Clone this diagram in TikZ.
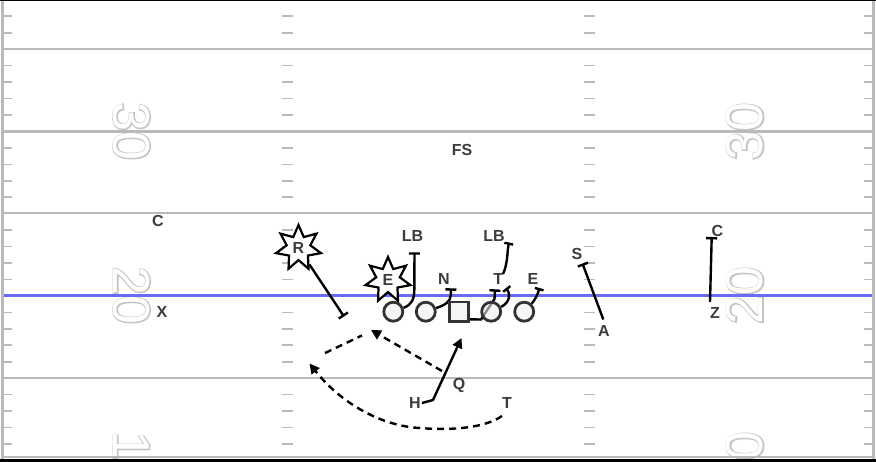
\documentclass[tikz,border=0pt]{standalone}
\usepackage{fontspec}
\setmainfont{Liberation Sans}
\newfontfamily\numfont{Liberation Sans}
\newfontfamily\numfontfat[FakeBold=4]{Liberation Sans}
\usetikzlibrary{arrows.meta,shapes.geometric}
\pgfdeclarelayer{field}
\pgfdeclarelayer{routes}
\pgfsetlayers{field,routes,main}
\definecolor{yardgray}{HTML}{BABABA}
\definecolor{tickgray}{HTML}{BBBBBB}
\definecolor{numgray}{HTML}{C4C4C4}
\definecolor{losblue}{HTML}{6B6BF2}
\definecolor{lbl}{HTML}{3C3C3C}
\definecolor{playerline}{HTML}{333333}
\definecolor{playerfill}{HTML}{EFEFEF}
\tikzset{
  yardline/.style={draw=yardgray, line width=2.6pt},
  tickline/.style={draw=tickgray, line width=1.6pt},
  numfat/.style={text=numgray, font=\numfontfat\fontsize{52}{52}\selectfont, inner sep=0pt},
  numthin/.style={text=white, font=\numfont\fontsize{52}{52}\selectfont, inner sep=0pt},
  lab/.style={text=lbl, font=\bfseries\fontsize{16}{16}\selectfont, inner sep=1pt},
  player/.style={circle, draw=playerline, line width=2.8pt, fill=playerfill, fill opacity=0.6, text opacity=1, minimum size=19pt, inner sep=0pt},
  centerbox/.style={rectangle, draw=playerline, line width=2.8pt, fill=playerfill, fill opacity=0.6, minimum size=19.5pt, inner sep=0pt},
  blitz/.style={star, star points=7, star point ratio=1.9, draw=black, line width=2.2pt, fill=white, minimum size=46pt, inner sep=0pt, text=lbl, font=\bfseries\fontsize{16}{16}\selectfont},
  route/.style={draw=black, line width=2.4pt},
  blockend/.style={-{Bar[width=11pt]}},
  blocksmall/.style={-{Bar[width=9pt]}},
  passarrow/.style={-{Triangle[length=10pt,width=10pt]}},
  dashroute/.style={route, dash pattern=on 7pt off 5pt},
}
\begin{document}
\begin{tikzpicture}[x=1pt,y=-1pt]
\useasboundingbox (0,0) rectangle (876,462);
\begin{pgfonlayer}{field}
  \fill[white] (0,0) rectangle (876,462);
  \begin{scope}
    \clip (0,0) rectangle (876,459);
    \node (n30lf) [numfat, rotate=-90] at (131.5,131.5) {30};
    \node (n30lt) [numthin, rotate=-90] at (131.5,131.5) {30};
    \node (n20lf) [numfat, rotate=-90] at (131.5,295.5) {20};
    \node (n20lt) [numthin, rotate=-90] at (131.5,295.5) {20};
    \node (n10lf) [numfat, rotate=-90] at (131.5,460.5) {10};
    \node (n10lt) [numthin, rotate=-90] at (131.5,460.5) {10};
    \node (n30rf) [numfat, rotate=90] at (745,131.5) {30};
    \node (n30rt) [numthin, rotate=90] at (745,131.5) {30};
    \node (n20rf) [numfat, rotate=90] at (745,295.5) {20};
    \node (n20rt) [numthin, rotate=90] at (745,295.5) {20};
    \node (n10rf) [numfat, rotate=90] at (745,460.5) {10};
    \node (n10rt) [numthin, rotate=90] at (745,460.5) {10};
  \end{scope}
  % yard lines
  \foreach \yy in {49.2,131.5,213,378.2,457}
    \draw[yardline] (3,\yy) -- (873,\yy);
  % hash ticks
  \foreach \n in {-2,-1,1,2,3,4,6,7,8,9,11,12,13,14,16,17,18,19,21,22,23,24}{
    \pgfmathsetmacro\yy{49.2+16.45*\n}
    \draw[tickline] (3,\yy) -- (12,\yy);
    \draw[tickline] (282,\yy) -- (292.5,\yy);
    \draw[tickline] (584,\yy) -- (595,\yy);
    \draw[tickline] (864,\yy) -- (873,\yy);
  }
  % line of scrimmage
  \draw[draw=losblue, line width=2.5pt] (3,295.5) -- (873,295.5);
  % sidelines and frame
  \draw[draw=yardgray, line width=2.5pt] (2.5,0) -- (2.5,462);
  \draw[draw=yardgray, line width=2.5pt] (873.5,0) -- (873.5,462);
  \draw[black, line width=1.2pt] (0,0.6) -- (876,0.6);
  \draw[black, line width=3pt] (0,460.5) -- (876,460.5);
\end{pgfonlayer}

% offensive players
\node (c1) [player] at (393.3,311.7) {};
\node (c2) [player] at (425.8,311.7) {};
\node (sq) [centerbox] at (459,311.7) {};
\node (c4) [player] at (491.2,311.7) {};
\node (c5) [player] at (524.2,311.7) {};

% blitzers
\node (R) [blitz] at (298.5,248) {R};
\node (E1) [blitz] at (388,280) {E};

% labels
\node (Cl) [lab] at (158,221) {C};
\node (X) [lab] at (162,312) {X};
\node (FS) [lab] at (462,150) {FS};
\node (LB1) [lab] at (412.5,236) {LB};
\node (LB2) [lab] at (494,236) {LB};
\node (N) [lab] at (444,279) {N};
\node (Td) [lab] at (498.3,278.5) {T};
\node (E2) [lab] at (533,279) {E};
\node (S) [lab] at (577,254) {S};
\node (Cr) [lab] at (717.5,231) {C};
\node (Z) [lab] at (715,313) {Z};
\node (A) [lab] at (604,331) {A};
\node (Q) [lab] at (459,385) {Q};
\node (H) [lab] at (415,403) {H};
\node (To) [lab] at (507,403) {T};

% route end points
\coordinate (rEnd) at (344,316.5);
\coordinate (lb1Bar) at (414.5,252.3);
\coordinate (nBar) at (451,288.3);
\coordinate (tBar) at (495,289.3);
\coordinate (hookEnd) at (506,288);
\coordinate (e2End) at (539.5,288);
\coordinate (lb2End) at (509,242.5);
\coordinate (lb2Start) at (503,274);
\coordinate (aStart) at (603.3,319.5);
\coordinate (sBar) at (582.5,263.5);
\coordinate (zStart) at (710,302);
\coordinate (cBar) at (711.7,237);
\coordinate (hEnd) at (461.5,338);
\coordinate (qStart) at (442,371);
\coordinate (qEnd) at (371,330);
\coordinate (tStart) at (502,416);
\coordinate (tEnd) at (309.5,363.5);
\coordinate (mStart) at (325,353);
\coordinate (mEnd) at (362,335.5);

\begin{pgfonlayer}{routes}
  \draw[route, blockend] (R) -- (rEnd);
  \draw[route, blockend] (c1) .. controls (411,305) and (414.3,300) .. (414.3,290) -- (lb1Bar);
  \draw[route, blockend] (c2) .. controls (445,305) and (450.5,302) .. (450.8,295) -- (nBar);
  \draw[route, blockend] ([yshift=3.5pt]sq.south east) -- (481,319.5) -- (494.5,299) -- (tBar);
  \draw[route, blocksmall] (c4) .. controls (511,302) and (510,293) .. (hookEnd);
  \draw[route, blocksmall] (c5) .. controls (535,300) and (537.5,295) .. (e2End);
  \draw[route, blocksmall] (lb2Start) .. controls (508,263) and (507,252) .. (lb2End);
  \draw[route, blockend] (aStart) -- (sBar);
  \draw[route, blockend] (zStart) -- (cBar);
  \draw[route, passarrow] (H.east) -- (433,400) -- (hEnd);
  \draw[dashroute, passarrow] (qStart) -- (qEnd);
  \draw[dashroute, passarrow] (tStart) .. controls (482,430) and (442,430) .. (420,428)
        .. controls (380,426) and (340,402) .. (tEnd);
  \draw[dashroute] (mStart) -- (mEnd);
\end{pgfonlayer}
\end{tikzpicture}
\end{document}
